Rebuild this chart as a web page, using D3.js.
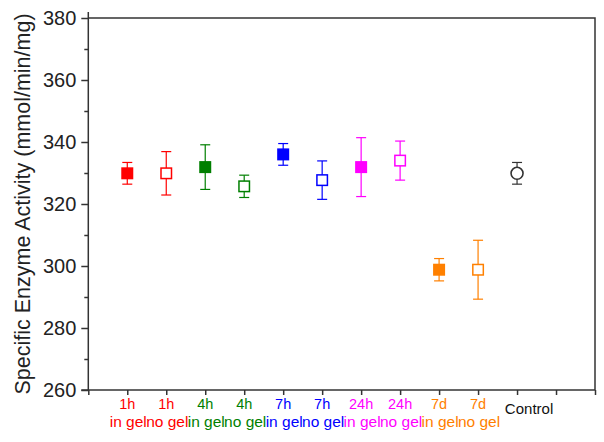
<!DOCTYPE html>
<html><head><meta charset="utf-8">
<script src="https://cdn.jsdelivr.net/npm/d3@7"></script>
<style>body{margin:0;background:#fff}svg{display:block}text{font-family:Arial,"Liberation Sans",sans-serif}</style>
</head><body>
<svg id="c" width="604" height="442"></svg>
<script>
const timeLabels = ["1h","1h","4h","4h","7h","7h","24h","24h","7d","7d","Control"];
const gelLabels = ["in gel","no gel","in gel","no gel","in gel","no gel","in gel","no gel","in gel","no gel",""];
const colors = ["#ff0000","#ff0000","#007f00","#007f00","#0000ff","#0000ff","#ff00ff","#ff00ff","#ff8000","#ff8000","#333333"];
const markers = ["filled","open","filled","open","filled","open","filled","open","filled","open","circle"];
const means = [329.9,329.9,331.9,325.7,336.0,327.7,331.9,334.0,298.8,298.8,329.9];
const errors = [3.5,7.0,7.2,3.6,3.5,6.2,9.5,6.3,3.6,9.5,3.5];
const yMajorTicks = [260,280,300,320,340,360,380];
const yMinorTicks = [270,290,310,330,350,370];
const xTicks = d3.range(0,14);

const svg = d3.select("#c");
const L=88.3, R=595, T=18, B=390;
const x = d3.scaleLinear().domain([0,13]).range([L,R]);
const y = d3.scaleLinear().domain([260,380]).range([B,T]);
const axisColor="#333";

// y axis
const gy = svg.append("g").attr("transform",`translate(${L},0)`)
  .call(d3.axisLeft(y).tickValues(yMajorTicks).tickSize(7).tickPadding(5).tickFormat(d3.format("d")));
gy.selectAll("text").attr("font-size",20).attr("fill","#222");
const gym = svg.append("g").attr("transform",`translate(${L},0)`)
  .call(d3.axisLeft(y).tickValues(yMinorTicks).tickSize(4).tickFormat(""));
gym.select(".domain").remove();
// x axis
const gx = svg.append("g").attr("transform",`translate(0,${B})`)
  .call(d3.axisBottom(x).tickValues(xTicks).tickSize(5).tickFormat(""));
[gy,gym,gx].forEach(g=>{g.selectAll("path,line").attr("stroke",axisColor).attr("stroke-width",1.5);});
gy.select(".domain").attr("d",`M-7,${y(260)}H0V${T-6}`);
gx.select(".domain").attr("d",`M${L},0H${R}`);
// frame top & right
svg.append("path").attr("d",`M${L},${T}H${R}V${B}`).attr("fill","none").attr("stroke",axisColor).attr("stroke-width",1.5);

// y title
svg.append("text").attr("transform",`translate(30,${(T+B)/2}) rotate(-90)`)
  .attr("text-anchor","middle").attr("font-size",21.5).attr("fill","#222")
  .text("Specific Enzyme Activity (mmol/min/mg)");

// x labels
const lab = svg.append("g");
timeLabels.forEach((t,i)=>{
  const cx = x(i+1);
  const isCtrl = i===10;
  lab.append("text").attr("x",isCtrl?cx+12:cx).attr("y",isCtrl?414:409).attr("text-anchor","middle")
    .attr("font-size",isCtrl?15:14.5).attr("fill",isCtrl?"#111":colors[i]).text(t);
  if (gelLabels[i]) lab.append("text").attr("x",cx+1).attr("y",427).attr("text-anchor","middle")
    .attr("font-size",15.5).attr("fill",colors[i]).text(gelLabels[i]);
});

// points
const pts = svg.append("g");
means.forEach((m,i)=>{
  const cx=x(i+1), c=colors[i], e=errors[i];
  const g = pts.append("g").attr("stroke",c).attr("stroke-width",1.2).attr("fill","none");
  g.append("line").attr("x1",cx).attr("x2",cx).attr("y1",y(m+e)).attr("y2",y(m-e));
  [m+e,m-e].forEach(v=>g.append("line").attr("x1",cx-5).attr("x2",cx+5).attr("y1",y(v)).attr("y2",y(v)));
  if (markers[i]==="circle") {
    g.append("circle").attr("cx",cx).attr("cy",y(m)).attr("r",6).attr("fill","#fff").attr("stroke-width",1.6);
  } else {
    const s=10.5;
    g.append("rect").attr("x",cx-s/2).attr("y",y(m)-s/2).attr("width",s).attr("height",s)
      .attr("fill",markers[i]==="filled"?c:"#fff").attr("stroke-width",1.5);
  }
});
</script>
</body></html>
